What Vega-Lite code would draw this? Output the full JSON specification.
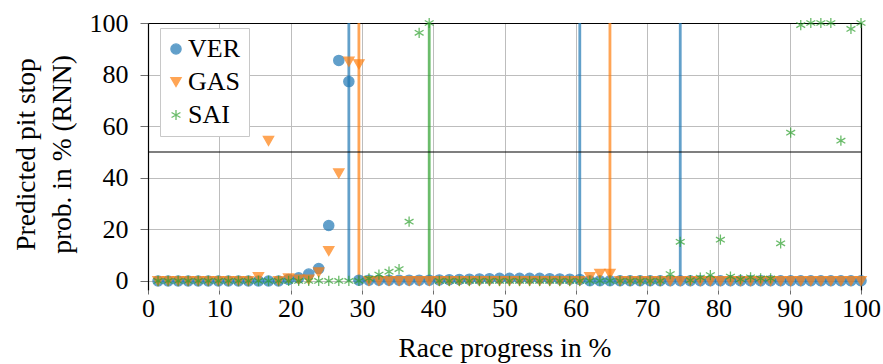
{
  "$schema": "https://vega.github.io/schema/vega-lite/v6.json",
  "width": 713,
  "height": 267,
  "autosize": "none",
  "padding": {"left": 148, "top": 23, "right": 22, "bottom": 74},
  "background": "white",
  "config": {
    "font": "Liberation Serif",
    "view": {"stroke": null},
    "axis": {
      "labelFont": "Liberation Serif", "titleFont": "Liberation Serif",
      "labelFontSize": 26, "titleFontSize": 27.5, "titleFontWeight": "normal",
      "labelColor": "black", "titleColor": "black",
      "gridColor": "#bdbdbd", "gridWidth": 1, "tickColor": "#6e6e6e", "domainColor": "black"
    }
  },
  "datasets": {
    "pits": [
      {"driver": "VER", "progress": 28.17},
      {"driver": "GAS", "progress": 29.58},
      {"driver": "SAI", "progress": 39.44},
      {"driver": "VER", "progress": 60.56},
      {"driver": "GAS", "progress": 64.79},
      {"driver": "VER", "progress": 74.65}
    ],
    "pts": [
      {"driver":"VER","progress":1.41,"prob":0},{"driver":"VER","progress":2.82,"prob":0},{"driver":"VER","progress":4.23,"prob":0},{"driver":"VER","progress":5.63,"prob":0},{"driver":"VER","progress":7.04,"prob":0},{"driver":"VER","progress":8.45,"prob":0},{"driver":"VER","progress":9.86,"prob":0},{"driver":"VER","progress":11.27,"prob":0},{"driver":"VER","progress":12.68,"prob":0},{"driver":"VER","progress":14.08,"prob":0},{"driver":"VER","progress":15.49,"prob":0},{"driver":"VER","progress":16.9,"prob":0},{"driver":"VER","progress":18.31,"prob":0},{"driver":"VER","progress":19.72,"prob":0.6},{"driver":"VER","progress":21.13,"prob":1.2},{"driver":"VER","progress":22.54,"prob":2.7},{"driver":"VER","progress":23.94,"prob":4.8},{"driver":"VER","progress":25.35,"prob":21.5},{"driver":"VER","progress":26.76,"prob":85.5},{"driver":"VER","progress":28.17,"prob":77.3},{"driver":"VER","progress":29.58,"prob":0.3},{"driver":"VER","progress":30.99,"prob":0.3},{"driver":"VER","progress":32.39,"prob":0.3},{"driver":"VER","progress":33.8,"prob":0.3},{"driver":"VER","progress":35.21,"prob":0.3},{"driver":"VER","progress":36.62,"prob":0.3},{"driver":"VER","progress":38.03,"prob":0.3},{"driver":"VER","progress":39.44,"prob":0.3},{"driver":"VER","progress":40.85,"prob":0.4},{"driver":"VER","progress":42.25,"prob":0.5},{"driver":"VER","progress":43.66,"prob":0.6},{"driver":"VER","progress":45.07,"prob":0.7},{"driver":"VER","progress":46.48,"prob":0.8},{"driver":"VER","progress":47.89,"prob":0.9},{"driver":"VER","progress":49.3,"prob":1.0},{"driver":"VER","progress":50.7,"prob":1.0},{"driver":"VER","progress":52.11,"prob":1.0},{"driver":"VER","progress":53.52,"prob":1.0},{"driver":"VER","progress":54.93,"prob":1.0},{"driver":"VER","progress":56.34,"prob":0.9},{"driver":"VER","progress":57.75,"prob":0.8},{"driver":"VER","progress":59.15,"prob":0.7},{"driver":"VER","progress":60.56,"prob":0.6},{"driver":"VER","progress":61.97,"prob":0.1},{"driver":"VER","progress":63.38,"prob":0.1},{"driver":"VER","progress":64.79,"prob":0.1},{"driver":"VER","progress":66.2,"prob":0.1},{"driver":"VER","progress":67.61,"prob":0.1},{"driver":"VER","progress":69.01,"prob":0.1},{"driver":"VER","progress":70.42,"prob":0.1},{"driver":"VER","progress":71.83,"prob":0.1},{"driver":"VER","progress":73.24,"prob":0.1},{"driver":"VER","progress":74.65,"prob":0.1},{"driver":"VER","progress":76.06,"prob":0.1},{"driver":"VER","progress":77.46,"prob":0.1},{"driver":"VER","progress":78.87,"prob":0.1},{"driver":"VER","progress":80.28,"prob":0.1},{"driver":"VER","progress":81.69,"prob":0.1},{"driver":"VER","progress":83.1,"prob":0.1},{"driver":"VER","progress":84.51,"prob":0.1},{"driver":"VER","progress":85.92,"prob":0.1},{"driver":"VER","progress":87.32,"prob":0.1},{"driver":"VER","progress":88.73,"prob":0.1},{"driver":"VER","progress":90.14,"prob":0.1},{"driver":"VER","progress":91.55,"prob":0.1},{"driver":"VER","progress":92.96,"prob":0.1},{"driver":"VER","progress":94.37,"prob":0.1},{"driver":"VER","progress":95.77,"prob":0.1},{"driver":"VER","progress":97.18,"prob":0.1},{"driver":"VER","progress":98.59,"prob":0.1},{"driver":"VER","progress":100,"prob":0.1},
      {"driver":"GAS","progress":1.41,"prob":0},{"driver":"GAS","progress":2.82,"prob":0},{"driver":"GAS","progress":4.23,"prob":0},{"driver":"GAS","progress":5.63,"prob":0},{"driver":"GAS","progress":7.04,"prob":0},{"driver":"GAS","progress":8.45,"prob":0},{"driver":"GAS","progress":9.86,"prob":0},{"driver":"GAS","progress":11.27,"prob":0},{"driver":"GAS","progress":12.68,"prob":0},{"driver":"GAS","progress":14.08,"prob":0},{"driver":"GAS","progress":15.49,"prob":1.5},{"driver":"GAS","progress":16.9,"prob":54.3},{"driver":"GAS","progress":18.31,"prob":0},{"driver":"GAS","progress":19.72,"prob":1.0},{"driver":"GAS","progress":21.13,"prob":0.5},{"driver":"GAS","progress":22.54,"prob":0.5},{"driver":"GAS","progress":23.94,"prob":3.3},{"driver":"GAS","progress":25.35,"prob":11.6},{"driver":"GAS","progress":26.76,"prob":41.7},{"driver":"GAS","progress":28.17,"prob":85.0},{"driver":"GAS","progress":29.58,"prob":84.0},{"driver":"GAS","progress":30.99,"prob":0},{"driver":"GAS","progress":32.39,"prob":0},{"driver":"GAS","progress":33.8,"prob":0},{"driver":"GAS","progress":35.21,"prob":0},{"driver":"GAS","progress":36.62,"prob":0},{"driver":"GAS","progress":38.03,"prob":0},{"driver":"GAS","progress":39.44,"prob":0},{"driver":"GAS","progress":40.85,"prob":0},{"driver":"GAS","progress":42.25,"prob":0},{"driver":"GAS","progress":43.66,"prob":0},{"driver":"GAS","progress":45.07,"prob":0},{"driver":"GAS","progress":46.48,"prob":0},{"driver":"GAS","progress":47.89,"prob":0},{"driver":"GAS","progress":49.3,"prob":0},{"driver":"GAS","progress":50.7,"prob":0},{"driver":"GAS","progress":52.11,"prob":0},{"driver":"GAS","progress":53.52,"prob":0},{"driver":"GAS","progress":54.93,"prob":0},{"driver":"GAS","progress":56.34,"prob":0},{"driver":"GAS","progress":57.75,"prob":0},{"driver":"GAS","progress":59.15,"prob":0},{"driver":"GAS","progress":60.56,"prob":0},{"driver":"GAS","progress":61.97,"prob":1.5},{"driver":"GAS","progress":63.38,"prob":2.8},{"driver":"GAS","progress":64.79,"prob":2.8},{"driver":"GAS","progress":66.2,"prob":0},{"driver":"GAS","progress":67.61,"prob":0},{"driver":"GAS","progress":69.01,"prob":0},{"driver":"GAS","progress":70.42,"prob":0},{"driver":"GAS","progress":71.83,"prob":0},{"driver":"GAS","progress":73.24,"prob":0},{"driver":"GAS","progress":74.65,"prob":0},{"driver":"GAS","progress":76.06,"prob":0},{"driver":"GAS","progress":77.46,"prob":0},{"driver":"GAS","progress":78.87,"prob":0},{"driver":"GAS","progress":80.28,"prob":0},{"driver":"GAS","progress":81.69,"prob":0},{"driver":"GAS","progress":83.1,"prob":0},{"driver":"GAS","progress":84.51,"prob":0},{"driver":"GAS","progress":85.92,"prob":0},{"driver":"GAS","progress":87.32,"prob":0},{"driver":"GAS","progress":88.73,"prob":0},{"driver":"GAS","progress":90.14,"prob":0},{"driver":"GAS","progress":91.55,"prob":0},{"driver":"GAS","progress":92.96,"prob":0},{"driver":"GAS","progress":94.37,"prob":0},{"driver":"GAS","progress":95.77,"prob":0},{"driver":"GAS","progress":97.18,"prob":0},{"driver":"GAS","progress":98.59,"prob":0},{"driver":"GAS","progress":100,"prob":0},
      {"driver":"SAI","progress":1.41,"prob":0},{"driver":"SAI","progress":2.82,"prob":0},{"driver":"SAI","progress":4.23,"prob":0},{"driver":"SAI","progress":5.63,"prob":0},{"driver":"SAI","progress":7.04,"prob":0},{"driver":"SAI","progress":8.45,"prob":0},{"driver":"SAI","progress":9.86,"prob":0},{"driver":"SAI","progress":11.27,"prob":0},{"driver":"SAI","progress":12.68,"prob":0},{"driver":"SAI","progress":14.08,"prob":0},{"driver":"SAI","progress":15.49,"prob":0},{"driver":"SAI","progress":16.9,"prob":0},{"driver":"SAI","progress":18.31,"prob":0},{"driver":"SAI","progress":19.72,"prob":0},{"driver":"SAI","progress":21.13,"prob":0},{"driver":"SAI","progress":22.54,"prob":0},{"driver":"SAI","progress":23.94,"prob":0},{"driver":"SAI","progress":25.35,"prob":0},{"driver":"SAI","progress":26.76,"prob":0},{"driver":"SAI","progress":28.17,"prob":0},{"driver":"SAI","progress":29.58,"prob":0},{"driver":"SAI","progress":30.99,"prob":1.0},{"driver":"SAI","progress":32.39,"prob":2.5},{"driver":"SAI","progress":33.8,"prob":3.6},{"driver":"SAI","progress":35.21,"prob":4.6},{"driver":"SAI","progress":36.62,"prob":23.0},{"driver":"SAI","progress":38.03,"prob":96.2},{"driver":"SAI","progress":39.44,"prob":100},{"driver":"SAI","progress":40.85,"prob":0},{"driver":"SAI","progress":42.25,"prob":0},{"driver":"SAI","progress":43.66,"prob":0},{"driver":"SAI","progress":45.07,"prob":0},{"driver":"SAI","progress":46.48,"prob":0},{"driver":"SAI","progress":47.89,"prob":0},{"driver":"SAI","progress":49.3,"prob":0},{"driver":"SAI","progress":50.7,"prob":0},{"driver":"SAI","progress":52.11,"prob":0},{"driver":"SAI","progress":53.52,"prob":0},{"driver":"SAI","progress":54.93,"prob":0},{"driver":"SAI","progress":56.34,"prob":0},{"driver":"SAI","progress":57.75,"prob":0},{"driver":"SAI","progress":59.15,"prob":0},{"driver":"SAI","progress":60.56,"prob":0},{"driver":"SAI","progress":61.97,"prob":0},{"driver":"SAI","progress":63.38,"prob":0},{"driver":"SAI","progress":64.79,"prob":0},{"driver":"SAI","progress":66.2,"prob":0},{"driver":"SAI","progress":67.61,"prob":0},{"driver":"SAI","progress":69.01,"prob":0},{"driver":"SAI","progress":70.42,"prob":0},{"driver":"SAI","progress":71.83,"prob":0},{"driver":"SAI","progress":73.24,"prob":2.7},{"driver":"SAI","progress":74.65,"prob":15.2},{"driver":"SAI","progress":76.06,"prob":0.3},{"driver":"SAI","progress":77.46,"prob":1.3},{"driver":"SAI","progress":78.87,"prob":2.3},{"driver":"SAI","progress":80.28,"prob":16.0},{"driver":"SAI","progress":81.69,"prob":1.7},{"driver":"SAI","progress":83.1,"prob":0.7},{"driver":"SAI","progress":84.51,"prob":1.4},{"driver":"SAI","progress":85.92,"prob":1.0},{"driver":"SAI","progress":87.32,"prob":1.0},{"driver":"SAI","progress":88.73,"prob":14.6},{"driver":"SAI","progress":90.14,"prob":57.5},{"driver":"SAI","progress":91.55,"prob":99.2},{"driver":"SAI","progress":92.96,"prob":100},{"driver":"SAI","progress":94.37,"prob":100},{"driver":"SAI","progress":95.77,"prob":100},{"driver":"SAI","progress":97.18,"prob":54.4},{"driver":"SAI","progress":98.59,"prob":97.7},{"driver":"SAI","progress":100,"prob":100}
    ]
  },
  "resolve": {"axis": {"x": "independent", "y": "independent"}},
  "layer": [
    {
      "data": {"name": "pits"},
      "mark": {"type": "rule", "strokeWidth": 2.8, "opacity": 0.7},
      "encoding": {
        "x": {"field": "progress", "type": "quantitative",
              "scale": {"domain": [0, 100], "nice": false, "zero": false},
              "axis": {"orient": "top", "labels": false, "ticks": false, "grid": false, "title": null, "domain": true, "domainColor": "black", "domainWidth": 1.2}},
        "y": {"datum": 0, "type": "quantitative",
              "scale": {"domain": [-3.5, 100], "nice": false, "zero": false},
              "axis": {"orient": "right", "labels": false, "ticks": false, "grid": false, "title": null, "domain": true, "domainColor": "black", "domainWidth": 1.2}},
        "y2": {"datum": 100},
        "color": {"field": "driver", "type": "nominal",
                  "scale": {"range": ["#ff7f0e", "#2ca02c", "#1f77b4"]},
                  "legend": null}
      }
    },
    {
      "data": {"name": "pts"},
      "mark": {"type": "point", "opacity": 0.7, "strokeWidth": 1.3, "size": 105},
      "encoding": {
        "x": {"field": "progress", "type": "quantitative",
              "scale": {"domain": [0, 100], "nice": false, "zero": false},
              "axis": {"orient": "bottom", "values": [0,10,20,30,40,50,60,70,80,90,100], "domain": false, "grid": true,
                       "tickSize": 4, "labelPadding": 22.5, "labelBaseline": "alphabetic", "labelFlush": false,
                       "title": "Race progress in %", "titleBaseline": "alphabetic", "titleY": 66, "titleX": 356.5}},
        "y": {"field": "prob", "type": "quantitative",
              "scale": {"domain": [-3.5, 100], "nice": false, "zero": false},
              "axis": {"orient": "left", "values": [0,20,40,60,80,100], "domain": true, "domainColor": "black", "domainWidth": 1.2, "grid": true,
                       "tickSize": 8, "labelPadding": 12,
                       "title": ["Predicted pit stop", "prob. in % (RNN)"], "titleLineHeight": 36, "titleX": -108, "titleY": 131}},
        "fill": {"field": "driver", "type": "nominal",
                 "scale": {"domain": ["VER", "GAS", "SAI"], "range": ["#1f77b4", "#ff7f0e", "#2ca02c"]},
                 "legend": {"title": null, "orient": "none", "legendX": 12, "legendY": 5, "padding": 8, "strokeColor": "#c8c8c8", "fillColor": "white",
                            "labelFont": "Liberation Serif", "labelFontSize": 26, "labelColor": "black", "symbolSize": 105, "symbolStrokeWidth": 1.3,
                            "symbolOpacity": 0.7, "rowPadding": 7, "labelOffset": -1, "symbolOffset": -5}},
        "stroke": {"field": "driver", "type": "nominal",
                   "scale": {"domain": ["VER", "GAS", "SAI"], "range": ["#1f77b4", "#ff7f0e", "#2ca02c"]},
                   "legend": {"title": null, "orient": "none", "legendX": 12, "legendY": 5, "padding": 8, "strokeColor": "#c8c8c8", "fillColor": "white",
                            "labelFont": "Liberation Serif", "labelFontSize": 26, "labelColor": "black", "symbolSize": 105, "symbolStrokeWidth": 1.3,
                            "symbolOpacity": 0.7, "rowPadding": 7, "labelOffset": -1, "symbolOffset": -5}},
        "shape": {"field": "driver", "type": "nominal",
                  "scale": {"domain": ["VER", "GAS", "SAI"], "range": ["circle", "triangle-down", "M0,-1L0,1M-0.866,-0.5L0.866,0.5M-0.866,0.5L0.866,-0.5"]},
                  "legend": {"title": null, "orient": "none", "legendX": 12, "legendY": 5, "padding": 8, "strokeColor": "#c8c8c8", "fillColor": "white",
                            "labelFont": "Liberation Serif", "labelFontSize": 26, "labelColor": "black", "symbolSize": 105, "symbolStrokeWidth": 1.3,
                            "symbolOpacity": 0.7, "rowPadding": 7, "labelOffset": -1, "symbolOffset": -5}}
      }
    },
    {
      "data": {"values": [{"threshold": 50}]},
      "mark": {"type": "rule", "color": "black", "strokeWidth": 1.1},
      "encoding": {
        "y": {"field": "threshold", "type": "quantitative", "scale": {"domain": [-3.5, 100], "nice": false, "zero": false}, "axis": null}
      }
    }
  ]
}
